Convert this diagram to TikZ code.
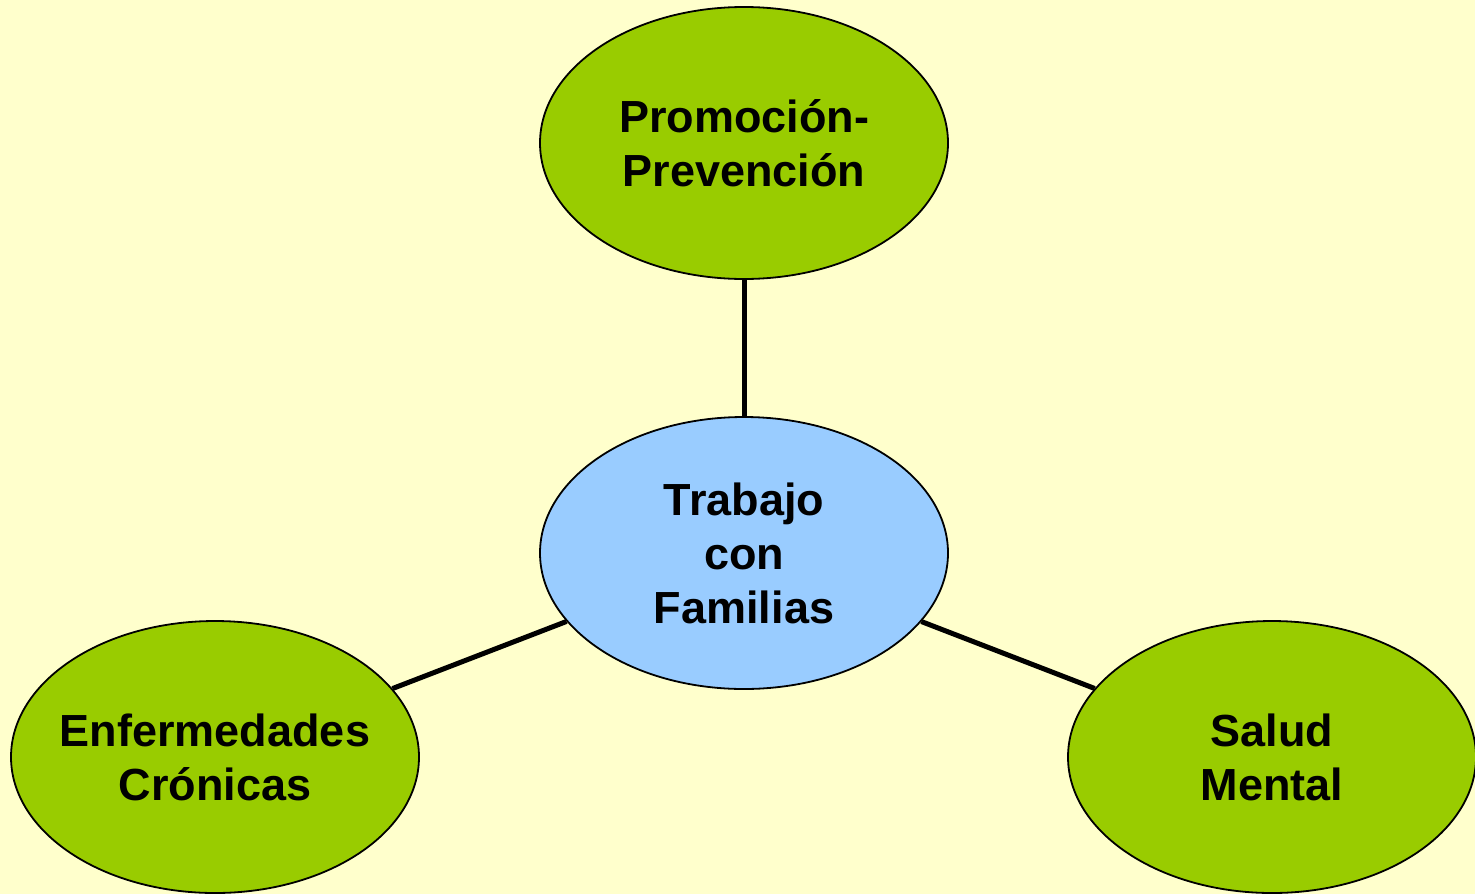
\documentclass[tikz,border=0pt]{standalone}
\usepackage{fontspec}
\setmainfont{Liberation Sans}
\usetikzlibrary{shapes.geometric}
\definecolor{bgyellow}{HTML}{FFFFCC}
\definecolor{leafgreen}{HTML}{99CC00}
\definecolor{hubblue}{HTML}{99CCFF}
\tikzset{
  bubble/.style={ellipse, draw=black, line width=0.9pt, minimum width=204pt, minimum height=136pt, inner xsep=-20pt, inner ysep=0pt, align=center, font=\fontsize{22.5pt}{27pt}\selectfont\bfseries},
  leaf/.style={bubble, fill=leafgreen},
  hub/.style={bubble, fill=hubblue},
  link/.style={line width=2.5pt, draw=black}
}
\begin{document}
\begin{tikzpicture}[x=0.5pt,y=-0.5pt]
\fill[bgyellow] (0,0) rectangle (1475,894);
\useasboundingbox (0,0) rectangle (1475,894);
\node[leaf] (top) at (744,143) {Promoción-\\Prevención};
\node[hub] (mid) at (744,553) {Trabajo\\con\\Familias};
\node[leaf] (left) at (215,757) {Enfermedades\\Crónicas};
\node[leaf] (right) at (1272,757) {Salud\\Mental};
\draw[link] (mid) -- (top);
\draw[link] (mid) -- (left);
\draw[link] (mid) -- (right);
\end{tikzpicture}
\end{document}
